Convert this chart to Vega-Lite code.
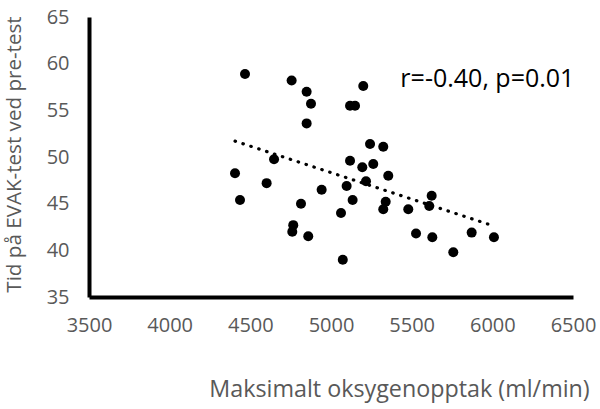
{
  "$schema": "https://vega.github.io/schema/vega-lite/v6.json",
  "autosize": "none",
  "padding": {"left": 89, "top": 17, "right": 27, "bottom": 112},
  "width": 484,
  "height": 280,
  "background": "white",
  "config": {"view": {"stroke": null}, "font": "Open Sans"},
  "datasets": {
    "points": [
      {"vo2": 4467, "tid": 58.9},
      {"vo2": 4756, "tid": 58.2},
      {"vo2": 4849, "tid": 57.0},
      {"vo2": 4876, "tid": 55.7},
      {"vo2": 5200, "tid": 57.6},
      {"vo2": 5118, "tid": 55.5},
      {"vo2": 5149, "tid": 55.5},
      {"vo2": 4849, "tid": 53.6},
      {"vo2": 5242, "tid": 51.4},
      {"vo2": 5324, "tid": 51.1},
      {"vo2": 4647, "tid": 49.75},
      {"vo2": 4405, "tid": 48.25},
      {"vo2": 4601, "tid": 47.2},
      {"vo2": 5118, "tid": 49.6},
      {"vo2": 5194, "tid": 48.9},
      {"vo2": 5262, "tid": 49.25},
      {"vo2": 5355, "tid": 48.0},
      {"vo2": 4942, "tid": 46.5},
      {"vo2": 5097, "tid": 46.9},
      {"vo2": 5217, "tid": 47.4},
      {"vo2": 4436, "tid": 45.4},
      {"vo2": 4814, "tid": 45.0},
      {"vo2": 5134, "tid": 45.4},
      {"vo2": 5339, "tid": 45.2},
      {"vo2": 5324, "tid": 44.4},
      {"vo2": 5062, "tid": 44.0},
      {"vo2": 5479, "tid": 44.4},
      {"vo2": 4766, "tid": 42.7},
      {"vo2": 4760, "tid": 42.0},
      {"vo2": 4859, "tid": 41.5},
      {"vo2": 5527, "tid": 41.8},
      {"vo2": 5073, "tid": 39.0},
      {"vo2": 5624, "tid": 45.85},
      {"vo2": 5609, "tid": 44.75},
      {"vo2": 5628, "tid": 41.4},
      {"vo2": 5872, "tid": 41.9},
      {"vo2": 6010, "tid": 41.4},
      {"vo2": 5758, "tid": 39.8}
    ],
    "trend": [
      {"vo2": 4405, "tid": 51.7},
      {"vo2": 6010, "tid": 42.6}
    ],
    "note": [
      {"vo2": 5430, "tid": 58.4, "label": "r=-0.40, p=0.01"}
    ]
  },
  "encoding": {
    "x": {
      "field": "vo2",
      "type": "quantitative",
      "scale": {"domain": [3500, 6500], "nice": false, "zero": false},
      "axis": {
        "values": [3500, 4000, 4500, 5000, 5500, 6000, 6500],
        "format": "d",
        "grid": false,
        "ticks": false,
        "tickSize": 0,
        "domainColor": "black",
        "domainWidth": 4,
        "labelFlush": false,
        "labelOverlap": false,
        "labelFont": "Open Sans",
        "labelFontSize": 20,
        "labelColor": "#595959",
        "labelPadding": 28,
        "labelBaseline": "middle",
        "title": "Maksimalt oksygenopptak (ml/min)",
        "titleFont": "Open Sans",
        "titleFontSize": 23.3,
        "titleFontWeight": "normal",
        "titleColor": "#595959",
        "titleX": 310,
        "titleY": 92,
        "titleAlign": "center",
        "titleBaseline": "middle"
      }
    },
    "y": {
      "field": "tid",
      "type": "quantitative",
      "scale": {"domain": [35, 65], "nice": false, "zero": false},
      "axis": {
        "values": [35, 40, 45, 50, 55, 60, 65],
        "grid": false,
        "ticks": false,
        "tickSize": 0,
        "domainColor": "black",
        "domainWidth": 4,
        "labelFlush": false,
        "labelOverlap": false,
        "labelFont": "Open Sans",
        "labelFontSize": 20,
        "labelColor": "#595959",
        "labelPadding": 20,
        "title": "Tid på EVAK-test ved pre-test",
        "titleFont": "Open Sans",
        "titleFontSize": 20.6,
        "titleFontWeight": "normal",
        "titleColor": "#595959",
        "titleX": -75,
        "titleY": 137,
        "titleAngle": -90,
        "titleAlign": "center",
        "titleBaseline": "middle"
      }
    }
  },
  "layer": [
    {
      "data": {"name": "trend"},
      "mark": {"type": "line", "color": "black", "strokeWidth": 3.2, "strokeDash": [0.5, 7.8], "strokeCap": "round"}
    },
    {
      "data": {"name": "points"},
      "mark": {"type": "circle", "size": 100, "color": "black", "opacity": 1}
    },
    {
      "data": {"name": "note"},
      "mark": {"type": "text", "align": "left", "baseline": "middle", "font": "Open Sans", "fontSize": 25, "color": "black"},
      "encoding": {"text": {"field": "label"}}
    }
  ]
}
